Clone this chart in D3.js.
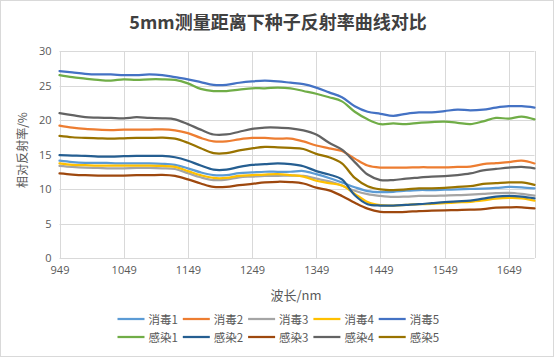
<!DOCTYPE html>
<html>
<head>
<meta charset="utf-8">
<script src="https://cdn.jsdelivr.net/npm/d3@7"></script>
<style>
html,body{margin:0;padding:0;background:#fff;}
svg{display:block;}
text{font-family:"Noto Sans CJK SC","Noto Sans",sans-serif;}
</style>
</head>
<body>
<svg id="chart" width="555" height="358"></svg>
<script>
const wavelengths = [949,969,989,1009,1029,1049,1069,1089,1109,1129,1149,1169,1189,1209,1229,1249,1269,1289,1309,1329,1349,1369,1389,1409,1429,1449,1469,1489,1509,1529,1549,1569,1589,1609,1629,1649,1669,1689];
const xTicks = [949,1049,1149,1249,1349,1449,1549,1649];
const yTicks = [0,5,10,15,20,25,30];
const seriesNames = ["消毒1","消毒2","消毒3","消毒4","消毒5","感染1","感染2","感染3","感染4","感染5"];
const seriesColors = ["#5B9BD5","#ED7D31","#A5A5A5","#FFC000","#4472C4","#70AD47","#255E91","#9E480E","#636363","#997300"];

const xiaodu1 = [14.1,13.9,13.8,13.8,13.75,13.7,13.7,13.7,13.65,13.5,13.0,12.4,12.0,12.0,12.3,12.4,12.5,12.5,12.5,12.6,12.15,11.6,10.95,10.25,9.7,9.55,9.6,9.75,9.85,9.85,9.9,9.95,10.0,10.05,10.15,10.3,10.25,10.1];
const xiaodu2 = [19.2,18.9,18.7,18.6,18.55,18.6,18.6,18.6,18.65,18.5,18.1,17.4,16.9,16.9,17.2,17.4,17.4,17.3,17.3,16.9,16.3,15.9,15.5,14.4,13.4,13.1,13.1,13.1,13.15,13.15,13.15,13.2,13.25,13.6,13.75,13.9,14.1,13.7];
const xiaodu3 = [13.35,13.2,13.1,13.05,13.0,13.0,13.05,13.05,13.0,12.9,12.3,11.7,11.3,11.35,11.7,11.8,11.9,11.9,11.95,11.9,11.5,11.1,10.5,9.75,9.25,9.0,8.85,8.9,9.0,9.0,9.05,9.1,9.2,9.3,9.4,9.45,9.3,9.05];
const xiaodu4 = [13.7,13.5,13.45,13.4,13.4,13.4,13.4,13.4,13.35,13.2,12.6,12.0,11.6,11.6,11.9,12.0,12.1,12.15,12.0,11.8,11.2,10.85,10.5,9.3,8.1,7.65,7.6,7.7,7.8,7.85,7.95,8.05,8.15,8.35,8.6,8.7,8.65,8.3];
const xiaodu5 = [27.1,26.9,26.7,26.6,26.6,26.5,26.5,26.6,26.5,26.2,25.9,25.5,25.1,25.1,25.4,25.6,25.7,25.6,25.4,25.2,24.7,24.0,23.3,22.0,21.2,20.9,20.6,20.9,21.1,21.1,21.3,21.5,21.4,21.5,21.8,22.0,22.0,21.8];
const ganran1 = [26.5,26.2,26.0,25.8,25.7,25.9,25.8,25.9,25.9,25.8,25.3,24.5,24.2,24.2,24.4,24.6,24.6,24.7,24.6,24.2,23.8,23.3,22.7,21.2,20.1,19.4,19.5,19.4,19.6,19.7,19.75,19.6,19.4,19.8,20.3,20.2,20.5,20.1];
const ganran2 = [14.9,14.85,14.8,14.7,14.7,14.75,14.8,14.8,14.8,14.6,14.1,13.4,12.8,12.8,13.2,13.5,13.6,13.7,13.6,13.3,12.6,12.1,11.4,9.1,7.8,7.6,7.6,7.7,7.8,7.95,8.1,8.2,8.3,8.6,8.9,9.0,8.9,8.65];
const ganran3 = [12.25,12.1,12.0,11.95,11.95,11.95,12.0,12.0,12.05,11.9,11.4,10.8,10.3,10.3,10.55,10.75,10.95,11.05,11.0,10.8,10.2,9.8,9.0,8.0,7.15,6.7,6.65,6.7,6.8,6.85,6.9,6.95,7.0,7.1,7.3,7.35,7.35,7.2];
const ganran4 = [21.0,20.7,20.4,20.35,20.3,20.25,20.4,20.3,20.25,20.1,19.4,18.6,17.9,17.9,18.3,18.7,18.9,18.9,18.8,18.5,17.9,16.7,15.7,13.9,12.1,11.3,11.3,11.5,11.65,11.8,11.85,12.0,12.25,12.7,12.9,13.1,13.2,13.0];
const ganran5 = [17.7,17.5,17.4,17.35,17.3,17.35,17.4,17.4,17.45,17.3,16.7,15.9,15.2,15.2,15.6,15.9,16.1,16.05,15.95,15.8,15.1,14.6,13.7,11.6,10.4,9.95,9.85,9.95,10.1,10.1,10.15,10.3,10.4,10.75,10.85,10.95,10.95,10.6];

const seriesValues = [xiaodu1,xiaodu2,xiaodu3,xiaodu4,xiaodu5,ganran1,ganran2,ganran3,ganran4,ganran5];

const svg = d3.select("#chart");
const W = 555, H = 358;
const plot = {left: 59.5, right: 534.5, top: 51, bottom: 258};

// chart border
svg.append("rect").attr("x",0.5).attr("y",0.5).attr("width",W-2).attr("height",H-2)
  .attr("fill","#fff").attr("stroke","#D9D9D9").attr("stroke-width",1);

const x = d3.scaleLinear().domain([949,1689]).range([plot.left, plot.right]);
const y = d3.scaleLinear().domain([0,30]).range([plot.bottom, plot.top]);

// grid
const grid = svg.append("g");
grid.selectAll(".hg").data(yTicks).join("line")
  .attr("x1",plot.left).attr("x2",plot.right)
  .attr("y1",d=>Math.round(y(d))+0.5).attr("y2",d=>Math.round(y(d))+0.5)
  .attr("stroke","#D9D9D9").attr("stroke-width",1);
grid.selectAll(".vg").data(xTicks).join("line")
  .attr("x1",d=>Math.round(x(d))+0.5).attr("x2",d=>Math.round(x(d))+0.5)
  .attr("y1",plot.top).attr("y2",plot.bottom)
  .attr("stroke","#D9D9D9").attr("stroke-width",1);
grid.append("line").attr("x1",Math.round(plot.right)+0.5).attr("x2",Math.round(plot.right)+0.5)
  .attr("y1",plot.top).attr("y2",plot.bottom).attr("stroke","#D9D9D9");

// axes
const yAxis = d3.axisLeft(y).tickValues(yTicks).tickSize(0).tickPadding(8);
const gy = svg.append("g").attr("transform",`translate(${plot.left},0)`).call(yAxis);
gy.select(".domain").remove();
gy.selectAll("text").attr("fill","#595959").style("font-size","11px").style("font-family","'Open Sans','DejaVu Sans',sans-serif");

const xAxis = d3.axisBottom(x).tickValues(xTicks).tickFormat(d3.format("d")).tickSize(0).tickPadding(8);
const gx = svg.append("g").attr("transform",`translate(0,${plot.bottom})`).call(xAxis);
gx.select(".domain").remove();
gx.selectAll("text").attr("fill","#595959").style("font-size","11px").style("font-family","'Open Sans','DejaVu Sans',sans-serif");

// lines
const line = d3.line().x((d,i)=>x(wavelengths[i])).y(d=>y(d)).curve(d3.curveCatmullRom.alpha(0.5));
svg.append("g").selectAll("path").data(seriesValues).join("path")
  .attr("d",line).attr("fill","none")
  .attr("stroke",(d,i)=>seriesColors[i]).attr("stroke-width",2.25)
  .attr("stroke-linejoin","round").attr("stroke-linecap","round");

// title
svg.append("text").attr("x",278).attr("y",29).attr("text-anchor","middle")
  .attr("fill","#404040").style("font-size","18px").style("font-weight","bold")
  .text("5mm测量距离下种子反射率曲线对比");

// axis titles
svg.append("text").attr("transform","translate(27,150) rotate(-90)").attr("text-anchor","middle")
  .attr("fill","#595959").style("font-size","12px").text("相对反射率/%");
svg.append("text").attr("x",296).attr("y",300).attr("text-anchor","middle")
  .attr("fill","#595959").style("font-size","13px").text("波长/nm");

// legend
const legend = svg.append("g");
const items = legend.selectAll("g").data(seriesNames).join("g")
  .attr("transform",(d,i)=>`translate(${117.5 + (i%5)*65.3},${i<5?319:337})`);
items.append("line").attr("x1",0).attr("x2",27).attr("y1",0).attr("y2",0)
  .attr("stroke",(d,i)=>seriesColors[i]).attr("stroke-width",2.25);
items.append("text").attr("x",31).attr("y",4.5).attr("fill","#595959")
  .style("font-size","11.5px").text(d=>d);
</script>
</body>
</html>
